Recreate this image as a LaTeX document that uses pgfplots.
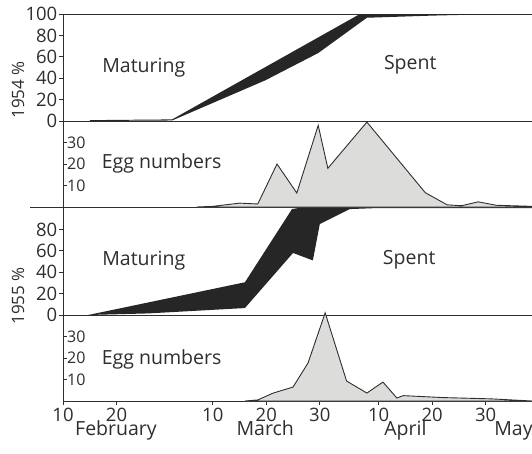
\documentclass[border=0pt]{standalone}
\usepackage{pgfplots}
\pgfplotsset{compat=1.18}
\usepgfplotslibrary{fillbetween}
\usepackage{fontspec}
\setmainfont{Open Sans}

\definecolor{ink}{HTML}{2E2E2E}
\definecolor{band}{HTML}{262626}
\definecolor{eggfill}{HTML}{DCDCDA}

% x = day of the year: 10 Feb = 41, 10 Mar = 69, 10 Apr = 100, 30 Apr = 120
% percentage panels: lower = maturing, upper = maturing + ripe (above it: spent)
\pgfplotstableread{
day   pct
46    0.8
61.4  1.5
96.5  100
128.7 100
}\upperA
\pgfplotstableread{
day   pct
46    0
61.4  0.5
78.8  38
88.7  63.5
97.8  96.5
110   98.5
120   99.7
128.7 100
}\lowerA
\pgfplotstableread{
day   n
66    0
69    0.3
74    1.8
77.4  1.4
81    20
84.7  6.5
88.7  38
90.5  18
97.8  39.5
108.7 6.7
112.8 1
115.5 0.6
118.6 2.4
122   0.8
128.7 0.3
}\eggsA
\pgfplotstableread{
day   pct
45.7  0
75    30.6
83.8  99
85    100
128.7 100
}\upperB
\pgfplotstableread{
day   pct
45.7  0
57    1.5
75    6.5
84    58
87.7  51
89    85
94.6  99
100   100
128.7 100
}\lowerB
\pgfplotstableread{
day   n
75    0
77.4  0.5
80.3  3.7
84    6.5
86.8  17.7
90    41
94    9.3
97.8  3.7
100.8 8.8
103.4 1.4
104.6 2.5
112   1.6
121   1.0
128.7 0
}\eggsB

\newcommand\ticksize{\fontsize{18.5}{18.5}\selectfont}
\newcommand\eggticksize{\fontsize{16}{16}\selectfont}
\newcommand\textsize{\fontsize{19.5}{19.5}\selectfont}

\tikzset{
  note/.style={font=\textsize, text=ink},
  month/.style={font=\fontsize{19.5}{19.5}\selectfont, text=ink, anchor=base, inner sep=0pt},
  yearlabel/.style={font=\fontsize{17}{17}\selectfont, text=ink, rotate=90},
}

\pgfplotsset{
  panel/.style={
    scale only axis, width=469pt,
    xmin=41, xmax=128.66,
    axis y line*=left,
    axis line style={-, line width=1pt, draw=ink},
    every tick/.style={draw=ink, line width=0.9pt},
    xtick=\empty,
    clip=false,
    /pgf/number format/assume math mode=true,
    tick label style={text=ink},
  },
  pct/.style={
    ymin=0, ymax=100, height=107pt,
    tick align=outside, major tick length=4pt,
    yticklabel style={font=\ticksize, inner sep=1.5pt},
  },
  egg/.style={
    ymin=0, ymax=40, height=86pt,
    ytick={10,20,30},
    tick align=inside, major tick length=3.5pt,
    yticklabel style={font=\eggticksize, anchor=west, xshift=3pt, inner sep=1pt},
  },
}

\begin{document}
\begin{tikzpicture}

% 1954: maturing / spent
\begin{axis}[panel, pct, axis x line*=box, ytick={0,20,...,100},
    at={(63pt,-121pt)}, anchor=south west]
  \addplot[draw=none, name path=U] table[x=day, y=pct] {\upperA};
  \addplot[draw=none, name path=L] table[x=day, y=pct] {\lowerA};
  \addplot[band] fill between[of=U and L];
  \node[note] at (axis cs:56.1,49.5) {Maturing};
  \node[note] at (axis cs:105.9,52.3) {Spent};
\end{axis}

% 1954: egg numbers
\begin{axis}[panel, egg, axis x line*=bottom,
    at={(63pt,-207pt)}, anchor=south west]
  \addplot[draw=ink, line width=0.9pt, fill=eggfill]
    table[x=day, y=n] {\eggsA} \closedcycle;
  \draw[ink, line width=1pt] ([xshift=-33pt]axis cs:41,0) -- (axis cs:41,0);
  \node[note, anchor=west] at (axis cs:47.6,20.2) {Egg numbers};
\end{axis}

% 1955: maturing / spent
\begin{axis}[panel, pct, axis x line*=bottom, ytick={0,20,...,80},
    at={(63pt,-315pt)}, anchor=south west]
  \addplot[draw=none, name path=U] table[x=day, y=pct] {\upperB};
  \addplot[draw=none, name path=L] table[x=day, y=pct] {\lowerB};
  \addplot[band] fill between[of=U and L];
  \node[note] at (axis cs:56.1,51) {Maturing};
  \node[note] at (axis cs:105.7,52) {Spent};
\end{axis}

% 1955: egg numbers, with the date axis
\begin{axis}[panel, egg, axis x line*=bottom,
    at={(63pt,-401pt)}, anchor=south west,
    xtick={41,51,69,79,89,100,110,120},
    xticklabels={10,20,10,20,30,10,20,30},
    xtick align=outside,
    xticklabel style={font=\fontsize{18.5}{18.5}\selectfont, anchor=base, yshift=-17pt, inner sep=0pt}]
  \addplot[draw=ink, line width=0.9pt, fill=eggfill]
    table[x=day, y=n] {\eggsB} \closedcycle;
  \node[note, anchor=west] at (axis cs:47.6,19.5) {Egg numbers};
  \node[month] at (axis cs:50.9,-16.2) {February};
  \node[month] at (axis cs:78.8,-16.2) {March};
  \node[month] at (axis cs:105,-16.2) {April};
  \node[month] at (axis cs:125.2,-16.2) {May};
\end{axis}

\node[yearlabel] at (18pt,-90pt) {1954 \%};
\node[yearlabel] at (18pt,-296pt) {1955 \%};

% page = the figure area, 532 x 453
\pgfresetboundingbox
\path[use as bounding box] (0pt,0pt) rectangle (532pt,-453pt);
\end{tikzpicture}
\end{document}
